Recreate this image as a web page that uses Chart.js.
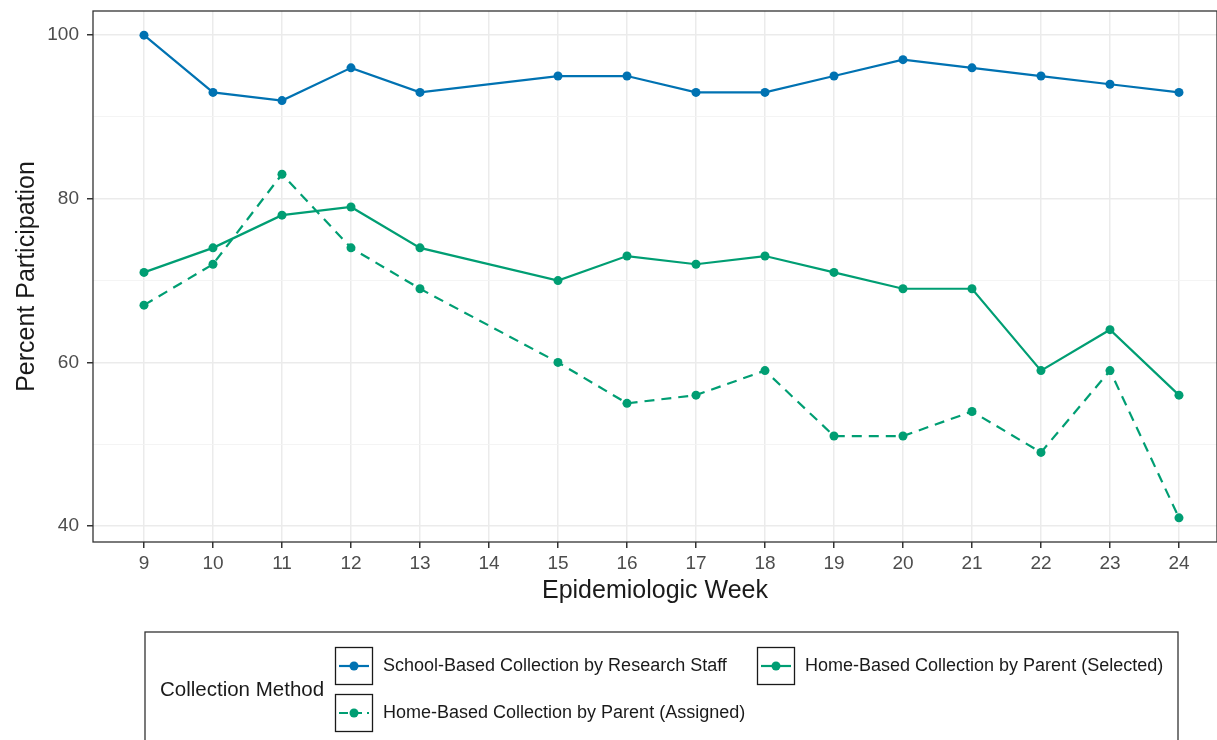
<!DOCTYPE html>
<html>
<head>
<meta charset="utf-8">
<script src="https://cdn.jsdelivr.net/npm/chart.js@4"></script>
<style>
  html, body { margin: 0; padding: 0; background: #fff; }
  #wrap { width: 1217px; height: 740px; position: relative; }
</style>
</head>
<body>
<div id="wrap"><canvas id="chart" width="1217" height="740"></canvas></div>
<script>
// weeks (14 has no data)
var weeks = [9, 10, 11, 12, 13, 15, 16, 17, 18, 19, 20, 21, 22, 23, 24];
var weekTicks = [9, 10, 11, 12, 13, 14, 15, 16, 17, 18, 19, 20, 21, 22, 23, 24];

var schoolStaff = [100, 93, 92, 96, 93, 95, 95, 93, 93, 95, 97, 96, 95, 94, 93];
var homeAssigned = [67, 72, 83, 74, 69, 60, 55, 56, 59, 51, 51, 54, 49, 59, 41];
var homeSelected = [71, 74, 78, 79, 74, 70, 73, 72, 73, 71, 69, 69, 59, 64, 56];

var seriesNames = [
    'School-Based Collection by Research Staff',
    'Home-Based Collection by Parent (Assigned)',
    'Home-Based Collection by Parent (Selected)'
];
var yTicks = [40, 60, 80, 100];

var blue = '#0072B2';
var green = '#009E73';
var font = "'Liberation Sans', Arial, sans-serif";

function toPoints(vals) {
    return weeks.map(function (w, i) { return { x: w, y: vals[i] }; });
}

function makeDataset(label, vals, color, dash) {
    return {
        label: label,
        data: toPoints(vals),
        borderColor: color,
        backgroundColor: color,
        borderWidth: 2.2,
        borderDash: dash,
        pointRadius: 4.5,
        pointBorderWidth: 0,
        pointHoverRadius: 4.5,
        tension: 0
    };
}

// panel border drawn all round the plot area
var panelBorder = {
    id: 'panelBorder',
    afterDatasetsDraw: function (chart) {
        var a = chart.chartArea, c = chart.ctx;
        c.save();
        c.strokeStyle = '#333333';
        c.lineWidth = 1.3;
        c.strokeRect(a.left, a.top, a.right - a.left, a.bottom - a.top);
        c.restore();
    }
};

// ggplot-like boxed legend under the plot
var boxLegend = {
    id: 'boxLegend',
    afterDraw: function (chart) {
        var c = chart.ctx;
        var sets = chart.data.datasets;
        c.save();
        c.strokeStyle = '#333333';
        c.lineWidth = 1.3;
        c.strokeRect(145, 632, 1033, 130);

        c.fillStyle = '#1a1a1a';
        c.font = '20.5px ' + font;
        c.textBaseline = 'middle';
        c.fillText('Collection Method', 160, 690);

        var slots = [
            { x: 335, y: 647 },
            { x: 335, y: 694 },
            { x: 757, y: 647 }
        ];
        sets.forEach(function (ds, i) {
            var s = slots[i];
            c.strokeStyle = '#1a1a1a';
            c.lineWidth = 1.3;
            c.setLineDash([]);
            c.strokeRect(s.x + 0.5, s.y + 0.5, 37, 37);
            var my = s.y + 19;
            c.strokeStyle = ds.borderColor;
            c.lineWidth = 2.2;
            c.setLineDash(ds.borderDash && ds.borderDash.length ? [9, 5] : []);
            c.beginPath();
            c.moveTo(s.x + 4, my);
            c.lineTo(s.x + 34, my);
            c.stroke();
            c.setLineDash([]);
            c.fillStyle = ds.borderColor;
            c.beginPath();
            c.arc(s.x + 19, my, 4.5, 0, Math.PI * 2);
            c.fill();
            c.fillStyle = '#1a1a1a';
            c.font = '18px ' + font;
            c.fillText(ds.label, s.x + 48, my);
        });
        c.restore();
    }
};

var ctx = document.getElementById('chart').getContext('2d');
var chart = new Chart(ctx, {
    type: 'line',
    data: {
        datasets: [
            makeDataset(seriesNames[0], schoolStaff, blue, []),
            makeDataset(seriesNames[1], homeAssigned, green, [10, 7]),
            makeDataset(seriesNames[2], homeSelected, green, [])
        ]
    },
    options: {
        responsive: false,
        animation: false,
        layout: { autoPadding: false, padding: { top: 11, right: 0, left: 0, bottom: 134 } },
        plugins: {
            legend: { display: false },
            tooltip: { enabled: false }
        },
        scales: {
            x: {
                type: 'linear',
                min: 8.261,
                max: 24.551,
                afterBuildTicks: function (scale) {
                    scale.ticks = weekTicks.map(function (v) { return { value: v }; });
                },
                afterFit: function (scale) {
                    scale.height = 64;
                    scale.paddingLeft = 0;
                    scale.paddingRight = 0;
                },
                grid: {
                    color: '#EBEBEB',
                    lineWidth: 1.5,
                    tickColor: '#333333',
                    tickLength: 6,
                    drawTicks: true
                },
                border: { display: false },
                ticks: {
                    color: '#4D4D4D',
                    font: { family: font, size: 19 },
                    padding: 4,
                    maxRotation: 0,
                    autoSkip: false
                },
                title: {
                    display: true,
                    text: 'Epidemiologic Week',
                    color: '#1a1a1a',
                    font: { family: font, size: 25 },
                    padding: { top: 0, bottom: 0 }
                }
            },
            y: {
                min: 38.05,
                max: 102.95,
                afterBuildTicks: function (scale) {
                    var t = [];
                    for (var v = 40; v <= 100; v += 10) t.push({ value: v });
                    scale.ticks = t;
                },
                afterFit: function (scale) {
                    scale.width = 93;
                    scale.paddingTop = 0;
                    scale.paddingBottom = 0;
                },
                grid: {
                    color: function (c) {
                        return yTicks.indexOf(c.tick.value) >= 0 ? '#EBEBEB' : '#F3F3F3';
                    },
                    lineWidth: function (c) {
                        return yTicks.indexOf(c.tick.value) >= 0 ? 1.5 : 0.9;
                    },
                    tickColor: function (c) {
                        return yTicks.indexOf(c.tick.value) >= 0 ? '#333333' : 'rgba(0,0,0,0)';
                    },
                    tickLength: 6
                },
                border: { display: false },
                ticks: {
                    color: '#4D4D4D',
                    font: { family: font, size: 19 },
                    padding: 8,
                    callback: function (v) { return yTicks.indexOf(v) >= 0 ? String(v) : ''; }
                },
                title: {
                    display: true,
                    text: 'Percent Participation',
                    color: '#1a1a1a',
                    font: { family: font, size: 25 },
                    padding: { top: 12, bottom: 0 }
                }
            }
        }
    },
    plugins: [panelBorder, boxLegend]
});
</script>
</body>
</html>
